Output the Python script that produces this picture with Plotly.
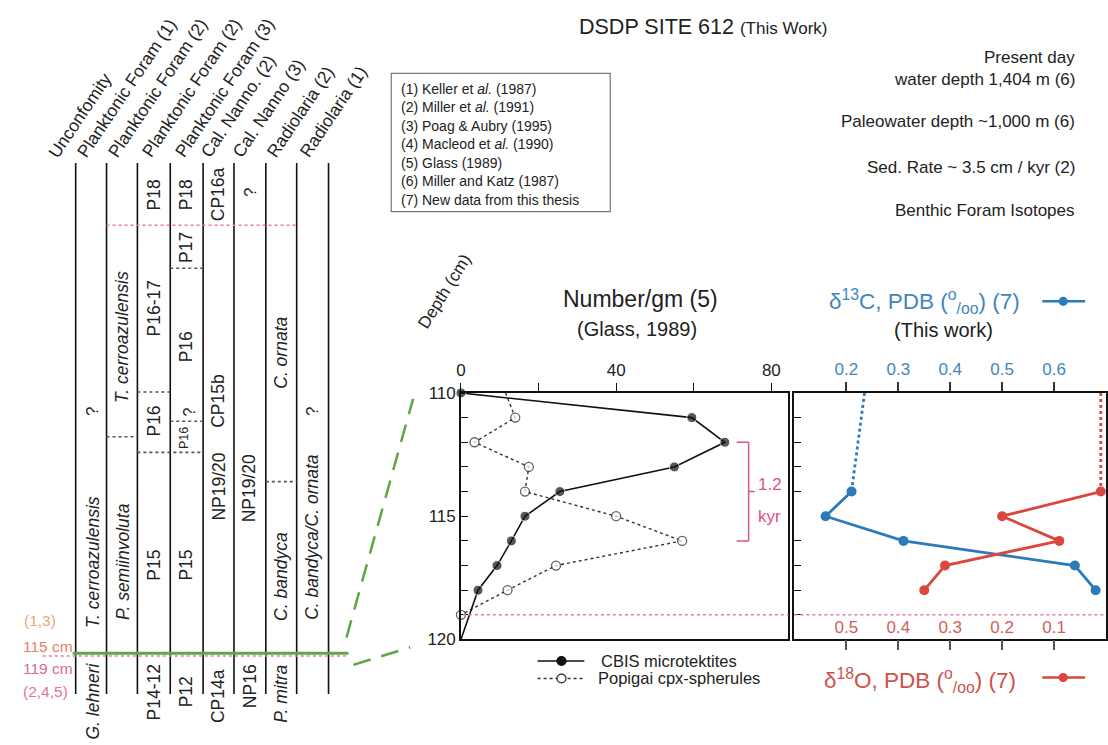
import plotly.graph_objects as go

W, H = 1108, 745
def px(x): return x / W
def py(y): return 1 - y / H

FONT = "Liberation Sans, Arial, Helvetica, sans-serif"
BLUE = "#2b7bba"
RED = "#d9473f"
PINK = "#e0508a"
PINKDOT = "#e87aa0"
GREEN = "#5fa646"

# ---------------- data ----------------
depth_cbis = [110, 111, 112, 113, 114, 115, 116, 117, 118, 120]
cbis = [0, 59.5, 68, 55, 25.5, 16.5, 13, 9.3, 4.4, 0]
depth_popigai = [110, 111, 112, 113, 114, 115, 116, 117, 118, 119]
popigai = [11.5, 14, 3.5, 17.5, 16.5, 40, 57, 24.5, 12, 0]

depth_iso = [114, 115, 116, 117, 118]
d13c = [0.21, 0.16, 0.31, 0.64, 0.68]
d18o = [0.01, 0.2, 0.09, 0.31, 0.35]
depth_gap = [110, 114]
d13c_gap = [0.235, 0.21]
d18o_gap = [0.01, 0.01]

count_major = [0, 40, 80]
count_minor = [20, 60]
count_inner = [20, 40, 60]
d13c_ticks = [0.2, 0.3, 0.4, 0.5, 0.6]
d18o_ticks = [0.1, 0.2, 0.3, 0.4, 0.5]
depth_major = [110, 115, 120]
depth_minor = [111, 112, 113, 114, 116, 117, 118, 119]

header_labels = ["Unconfomity", "Planktonic Foram (1)", "Planktonic Foram (2)",
                 "Planktonic Foram (2)", "Planktonic Foram (3)", "Cal. Nanno. (2)",
                 "Cal. Nanno (3)", "Radiolaria (2)", "Radiolaria (1)"]
header_x = [53, 82, 113, 147, 180, 206, 238, 272, 305]

column_lines_x = [71, 102, 133, 166, 199, 230, 262, 293, 325]

# (text, x, y, italic, size)
zone_texts = [
    ("?", 88, 413, False, 17), ("T. cerroazulensis", 88, 568, True, 17.5),
    ("G. lehneri", 88, 710, True, 17.5),
    ("T. cerroazulensis", 118, 336, True, 17.5), ("P. semiinvoluta", 118, 567, True, 17.5),
    ("P18", 150, 191, False, 17.5), ("P16-17", 150, 307, False, 17.5), ("P16", 150, 423, False, 17.5),
    ("P15", 150, 571, False, 17.5), ("P14-12", 150, 701, False, 17.5),
    ("P18", 182, 191, False, 17.5), ("P17", 182, 245, False, 17.5), ("P16", 182, 347, False, 17.5),
    ("?", 185, 414, False, 16), ("P16", 180, 440, False, 12.5), ("P15", 182, 571, False, 17.5),
    ("P12", 182, 701, False, 17.5),
    ("CP16a", 214, 190, False, 17.5), ("CP15b", 214, 402, False, 17.5),
    ("NP19/20", 214, 490, False, 17.5), ("CP14a", 214, 705, False, 17.5),
    ("?", 246, 188, False, 17), ("NP19/20", 246, 492, False, 17.5), ("NP16", 246, 695, False, 17.5),
    ("C. ornata", 277, 353, True, 17.5), ("C. bandyca", 277, 582, True, 17.5),
    ("P. mitra", 277, 703, True, 17.5),
    ("?", 309, 413, False, 17), ("C. bandyca/C. ornata", 309, 542, True, 17.5),
]

# dotted boundaries: (x0, x1, y)
boundaries = [(102, 133, 439), (133, 166, 393), (166, 199, 266), (166, 199, 423),
              (133, 199, 455), (262, 293, 485)]

refs = ["(1) Keller et <i>al.</i> (1987)", "(2) Miller et <i>al.</i> (1991)",
        "(3) Poag &amp; Aubry (1995)", "(4) Macleod et <i>al.</i> (1990)",
        "(5) Glass (1989)", "(6) Miller and Katz (1987)", "(7) New data from this thesis"]

site_info = [("Present day", 50), ("water depth 1,404 m (6)", 72),
             ("Paleowater depth ~1,000 m (6)", 115), ("Sed. Rate ~ 3.5 cm / kyr (2)", 163),
             ("Benthic Foram Isotopes", 207)]

# ---------------- figure ----------------
fig = go.Figure()

fig.add_trace(go.Scatter(
    x=popigai, y=depth_popigai, xaxis="x", yaxis="y", mode="lines+markers",
    line=dict(color="#333", width=1.4, dash="dot"),
    marker=dict(symbol="circle", size=[0] + [9] * (len(popigai) - 1), color="white",
                line=dict(color="#222", width=1.3)),
    cliponaxis=False, showlegend=False))
fig.add_trace(go.Scatter(
    x=cbis, y=depth_cbis, xaxis="x", yaxis="y", mode="lines+markers",
    line=dict(color="#111", width=1.6),
    marker=dict(symbol="circle", size=[10] * (len(cbis) - 1) + [0], color="#111"),
    cliponaxis=False, showlegend=False))

fig.add_trace(go.Scatter(
    x=d13c_gap, y=depth_gap, xaxis="x2", yaxis="y2", mode="lines",
    line=dict(color=BLUE, width=2.8, dash="dot"), showlegend=False))
fig.add_trace(go.Scatter(
    x=d13c, y=depth_iso, xaxis="x2", yaxis="y2", mode="lines+markers",
    line=dict(color=BLUE, width=2.8), marker=dict(size=10, color=BLUE),
    cliponaxis=False, showlegend=False))
fig.add_trace(go.Scatter(
    x=d18o_gap, y=depth_gap, xaxis="x3", yaxis="y2", mode="lines",
    line=dict(color=RED, width=2.8, dash="dot"), showlegend=False))
fig.add_trace(go.Scatter(
    x=d18o, y=depth_iso, xaxis="x3", yaxis="y2", mode="lines+markers",
    line=dict(color=RED, width=2.8), marker=dict(size=10, color=RED),
    cliponaxis=False, showlegend=False))

ydom = [py(647), py(394)]
axis_common = dict(showgrid=False, zeroline=False)

fig.update_layout(
    width=W, height=H, margin=dict(l=0, r=0, t=0, b=0),
    paper_bgcolor="white", plot_bgcolor="white",
    font=dict(family=FONT, size=16, color="#222"),
    xaxis=dict(domain=[px(458), px(787)], anchor="y", side="top", range=[0, 84.4],
               tickmode="array", tickvals=count_major, ticks="outside", ticklen=8,
               tickcolor="#111", tickwidth=1.3,
               minor=dict(tickmode="array", tickvals=count_minor, ticks="outside", ticklen=8,
                          tickcolor="#111", tickwidth=1.3),
               showline=True, mirror=True, linecolor="#111", linewidth=1.5,
               tickfont=dict(size=17), **axis_common),
    xaxis4=dict(overlaying="x", anchor="y", side="bottom", range=[0, 84.4],
                tickvals=count_inner, ticks="inside", ticklen=9, tickcolor="#111",
                tickwidth=1.3, showticklabels=False, showline=False, **axis_common),
    yaxis=dict(domain=ydom, anchor="x", range=[120, 110], tickmode="array",
               tickvals=depth_major, ticks="inside", ticklen=7, tickcolor="#111",
               tickwidth=1.3,
               minor=dict(tickmode="array", tickvals=depth_minor, ticks="inside", ticklen=7,
                          tickcolor="#111", tickwidth=1.3),
               showline=True, mirror=True, linecolor="#111", linewidth=1.5,
               tickfont=dict(size=17), **axis_common),
    xaxis2=dict(domain=[px(793), px(1106)], anchor="y2", side="top", range=[0.1, 0.7],
                tickvals=d13c_ticks, ticktext=[f"{v:.1f}" for v in d13c_ticks],
                ticks="outside", ticklen=9, tickcolor="#333", tickwidth=1.5,
                tickfont=dict(size=17, color="#3f86bd"),
                showline=True, mirror=True, linecolor="#111", linewidth=1.5, **axis_common),
    xaxis3=dict(overlaying="x2", anchor="y2", side="bottom", range=[0.6, 0.0],
                tickvals=d18o_ticks, ticktext=[f"{v:.1f}" for v in d18o_ticks],
                ticks="outside", ticklen=10, tickcolor="#555", tickwidth=1.5,
                ticklabelposition="inside", tickfont=dict(size=17, color="#d0605a"),
                showline=False, **axis_common),
    yaxis2=dict(domain=ydom, anchor="x2", range=[120, 110], tickvals=depth_minor,
                ticks="inside", ticklen=7, tickcolor="#111", tickwidth=1.3,
                showticklabels=False,
                showline=True, mirror=True, linecolor="#111", linewidth=1.5, **axis_common),
)

shapes = []
ann = []

def pline(x0, y0, x1, y1, color="#111", width=1.5, dash="solid"):
    shapes.append(dict(type="line", xref="paper", yref="paper", x0=px(x0), y0=py(y0),
                       x1=px(x1), y1=py(y1), line=dict(color=color, width=width, dash=dash)))

def circle(cx, cy, r, fill, edge):
    shapes.append(dict(type="circle", xref="paper", yref="paper", x0=px(cx - r), x1=px(cx + r),
                       y0=py(cy + r), y1=py(cy - r), fillcolor=fill, line=dict(color=edge, width=1.2)))

def text(s, x, y, size=16, color="#222", xanchor="center", yanchor="middle", angle=0,
         italic=False):
    ann.append(dict(text=s, x=px(x), y=py(y), xref="paper", yref="paper", showarrow=False,
                    xanchor=xanchor, yanchor=yanchor, textangle=angle,
                    font=dict(size=size, color=color, family=FONT,
                              style="italic" if italic else "normal")))

# stratigraphic columns
for x in column_lines_x:
    pline(x, 158, x, 703, width=1.6)
for x0, x1, y in boundaries:
    pline(x0, y, x1, y, color="#555", width=1.6, dash="dot")
pline(102, 222, 293, 222, color=PINKDOT, width=1.5, dash="dot")
pline(38, 664, 345, 664, color=PINKDOT, width=1.5, dash="dot")
pline(68, 661, 345, 661, color=GREEN, width=3)

for s, x, y, it, sz in zone_texts:
    text(s, x, y, size=sz, angle=-90, italic=it)

for lab, x in zip(header_labels, header_x):
    text(lab, x - 16, 159, size=17.5, xanchor="left", yanchor="bottom", angle=-56)

# left depth notes
text("(1,3)", 17, 627, size=15.5, color="#e9a77a", xanchor="left")
text("115 cm", 16, 654, size=15.5, color="#e8806a", xanchor="left")
text("119 cm", 16, 677, size=15.5, color="#dc6a86", xanchor="left")
text("(2,4,5)", 16, 700, size=15.5, color="#e07896", xanchor="left")

# green connectors
pline(343, 645, 410, 400, color=GREEN, width=2.5, dash="18px,11px")
pline(350, 673, 407, 655, color=GREEN, width=2.5, dash="18px,11px")

# references box
shapes.append(dict(type="rect", xref="paper", yref="paper", x0=px(388), x1=px(608),
                   y0=py(208), y1=py(66), line=dict(color="#777", width=1.2)))
for i, r in enumerate(refs):
    text(r, 396, 82 + 19 * i, size=14, xanchor="left")

# site info
text("DSDP SITE 612 <span style='font-size:17px'>(This Work)</span>", 575, 18, size=21.5,
     xanchor="left")
for s, y in site_info:
    text(s, 1077, y, size=17, xanchor="right")

# middle panel labels
text("Depth (cm)", 408, 334, size=17, xanchor="left", yanchor="bottom", angle=-58)
text("Number/gm (5)", 638, 298, size=23)
text("(Glass, 1989)", 635, 328, size=20)

# 119 cm dotted level
shapes.append(dict(type="line", xref="paper", yref="y", x0=px(460), x1=px(787), y0=119, y1=119,
                   line=dict(color=PINKDOT, width=1.5, dash="dot")))
shapes.append(dict(type="line", xref="paper", yref="y2", x0=px(793), x1=px(1106), y0=119, y1=119,
                   line=dict(color=PINKDOT, width=1.5, dash="dot")))

# 1.2 kyr bracket
for (xa, xb, yv) in [(735, 747, 112), (735, 747, 116), (747, 753, 114)]:
    shapes.append(dict(type="line", xref="paper", yref="y", x0=px(xa), x1=px(xb), y0=yv, y1=yv,
                       line=dict(color=PINK, width=1.5)))
shapes.append(dict(type="line", xref="paper", yref="y", x0=px(747), x1=px(747), y0=112, y1=116,
                   line=dict(color=PINK, width=1.5)))
text("1.2", 768, 488, size=17, color=PINK)
text("kyr", 768, 521, size=17, color=PINK)

# isotope titles
text("δ<sup>13</sup>C, PDB (<sup>o</sup><sub>/oo</sub>) (7)", 826, 300, size=22.5, color="#3f86bd",
     xanchor="left")
text("(This work)", 943, 329, size=20)
pline(1042, 300, 1085, 300, color=BLUE, width=2.5)
circle(1063, 300, 4, BLUE, BLUE)
text("δ<sup>18</sup>O, PDB (<sup>o</sup><sub>/oo</sub>) (7)", 821, 689, size=22.5, color="#d0504a",
     xanchor="left")
pline(1042, 686, 1085, 686, color=RED, width=2.5)
circle(1063, 686, 4, RED, RED)

# bottom legend
pline(535, 669, 582, 669, color="#111", width=1.5)
circle(559, 669, 4.5, "#111", "#111")
text("CBIS microtektites", 597, 669, size=16.5, xanchor="left")
pline(535, 687, 582, 687, color="#333", width=1.5, dash="dot")
circle(559, 687, 4.5, "white", "#222")
text("Popigai cpx-spherules", 594, 687, size=16.5, xanchor="left")

fig.update_layout(shapes=shapes, annotations=ann)

fig.write_html("out.html", config={"displayModeBar": False},
               post_script="document.body.style.margin='0';")
